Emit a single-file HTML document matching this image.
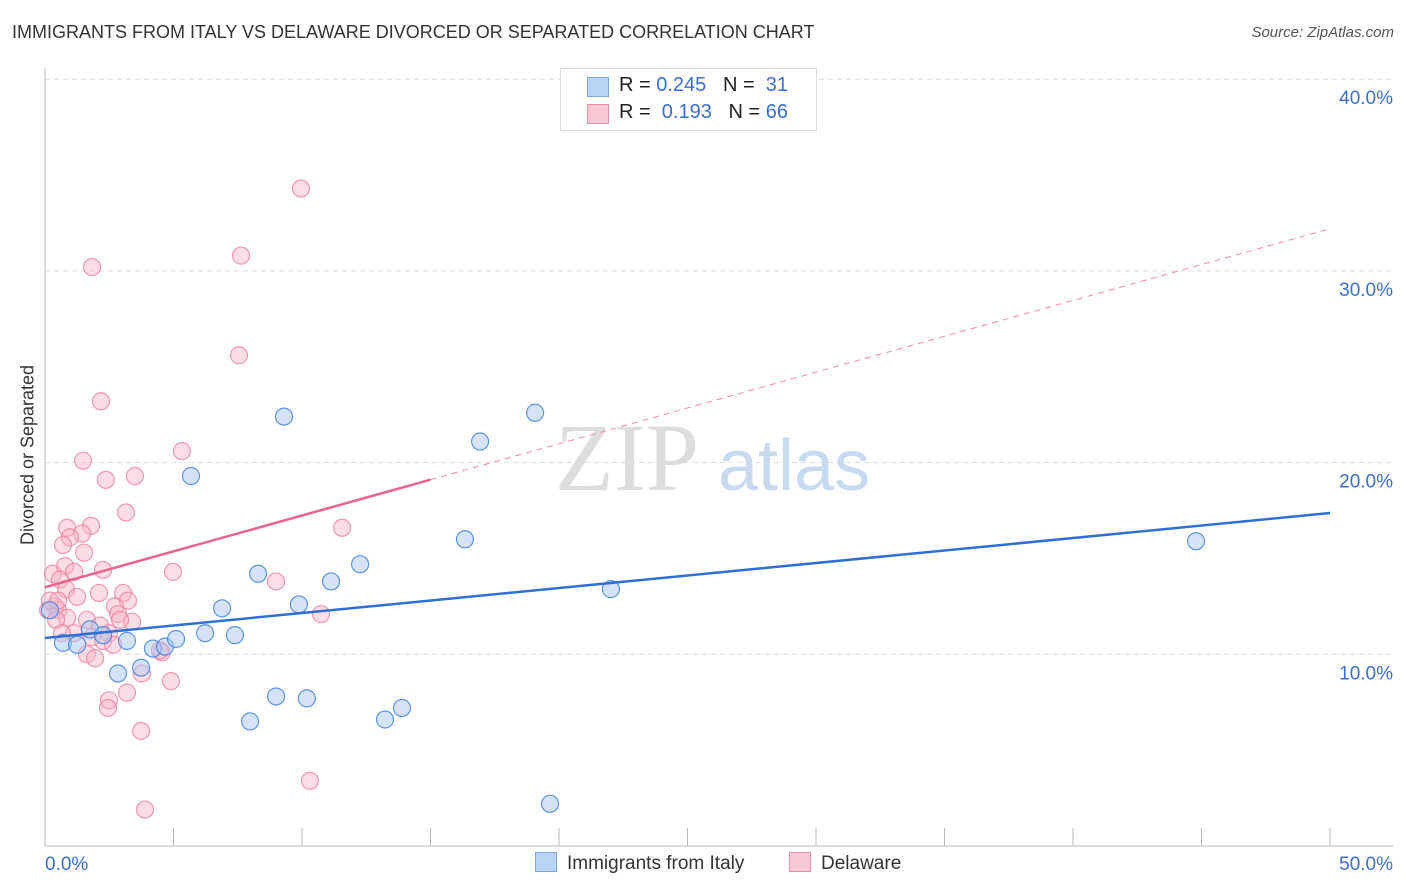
<!DOCTYPE html>
<html><head><meta charset="utf-8"><style>
body{margin:0;background:#fff;font-family:"Liberation Sans",sans-serif;}
#wrap{position:relative;width:1406px;height:892px;overflow:hidden;}
.t{position:absolute;white-space:nowrap;}
</style></head><body>
<div id="wrap">
<div class="t" style="left:12px;top:22px;font-size:18px;color:#333;">IMMIGRANTS FROM ITALY VS DELAWARE DIVORCED OR SEPARATED CORRELATION CHART</div>
<div class="t" style="right:12px;top:24px;font-size:15px;color:#555;font-style:italic;">Source: ZipAtlas.com</div>
<svg id="plot" width="1406" height="892" style="position:absolute;left:0;top:0"></svg>
<div class="t" style="left:560px;top:68px;width:255px;height:61px;border:1px solid #ddd;background:#fff;font-size:20px;">
  <div style="position:absolute;left:26px;top:8px;width:20px;height:18px;background:#b9d3f5;border:1px solid #7aa6e6"></div>
  <div style="position:absolute;left:58px;top:5px;color:#222">R = <span style="color:#3a6fd0">0.245</span>&nbsp;&nbsp;&nbsp;N = &nbsp;<span style="color:#3a6fd0">31</span></div>
  <div style="position:absolute;left:26px;top:35px;width:20px;height:18px;background:#f9c6d4;border:1px solid #eb8eaa"></div>
  <div style="position:absolute;left:58px;top:32px;color:#222">R = &nbsp;<span style="color:#3a6fd0">0.193</span>&nbsp;&nbsp;&nbsp;N = <span style="color:#3a6fd0">66</span></div>
</div>
<div class="t" style="left:28px;top:455px;transform:translate(-50%,-50%) rotate(-90deg);font-size:18px;color:#333;">Divorced or Separated</div>
<div class="t" style="left:535px;top:852px;font-size:19px;color:#333;"><span style="display:inline-block;width:20px;height:18px;background:#b9d3f5;border:1px solid #7aa6e6;vertical-align:-3px;margin-right:10px"></span>Immigrants from Italy</div>
<div class="t" style="left:789px;top:852px;font-size:19px;color:#333;"><span style="display:inline-block;width:20px;height:18px;background:#f9c6d4;border:1px solid #eb8eaa;vertical-align:-3px;margin-right:10px"></span>Delaware</div>
</div>
<script>
const yTicks=[10,20,30,40];
const yTickLabels=["10.0%","20.0%","30.0%","40.0%"];
const xEndLabels=["0.0%","50.0%"];
const blueX=[0.19,0.70,1.25,1.75,2.26,2.84,3.19,3.74,4.20,4.67,5.10,5.68,6.23,6.89,7.39,7.98,8.29,8.99,9.30,9.88,10.19,11.13,12.26,13.23,13.89,16.34,16.93,19.07,19.65,22.02,44.79];
const blueY=[12.3,10.6,10.5,11.3,11.0,9.0,10.7,9.3,10.3,10.4,10.8,19.3,11.1,12.4,11.0,6.5,14.2,7.8,22.4,12.6,7.7,13.8,14.7,6.6,7.2,16.0,21.1,22.6,2.2,13.4,15.9];
const pinkX=[9.96,7.63,1.83,7.55,2.18,5.33,1.48,3.50,2.37,3.15,0.86,1.79,1.44,0.97,1.52,0.31,0.78,1.13,2.26,4.98,0.58,8.99,0.82,2.10,3.04,1.25,3.23,0.39,2.72,0.12,0.51,2.84,0.86,1.63,3.39,10.74,11.56,0.43,2.14,2.49,1.13,1.83,2.26,2.65,4.55,1.63,1.95,3.77,4.90,3.19,2.49,2.45,3.74,10.31,3.89,0.66,0.19,0.51,2.92,4.47,0.70];
const pinkY=[34.3,30.8,30.2,25.6,23.2,20.6,20.1,19.3,19.1,17.4,16.6,16.7,16.3,16.1,15.3,14.2,14.6,14.3,14.4,14.3,13.9,13.8,13.4,13.2,13.2,13.0,12.8,12.5,12.5,12.3,12.3,12.1,11.9,11.8,11.7,12.1,16.6,11.8,11.5,11.1,11.1,10.9,10.7,10.5,10.1,10.0,9.8,9.0,8.6,8.0,7.6,7.2,6.0,3.4,1.9,11.1,12.8,12.8,11.8,10.2,15.7];
const blueTrend=[10.85,17.37];
const pinkTrend=[13.5,32.2];
const pinkSolidEnd=15;
const X=v=>45+v/50*1285, Y=v=>846-v*19.17;
const svg=document.getElementById('plot'),NS='http://www.w3.org/2000/svg';
function mk(t,a){const e=document.createElementNS(NS,t);for(const k in a)e.setAttribute(k,a[k]);svg.appendChild(e);return e;}
yTicks.forEach((v,i)=>{
 const g=mk('line',{x1:45,x2:1393,y1:Y(v),y2:Y(v),stroke:'#ddd','stroke-dasharray':'5,4'});
 
 
 const t=mk('text',{x:1393,y:Y(v)+25,'text-anchor':'end','font-size':19,fill:'#3a6fd0','font-family':'Liberation Sans'});
 t.textContent=yTickLabels[i];
 
 
});
const ax=mk('line',{x1:45,x2:45,y1:68,y2:846,stroke:'#bbb'});


const bx=mk('line',{x1:45,x2:1393,y1:846,y2:846,stroke:'#bbb'});


for(let v=5;v<=50;v+=5){const tk=mk('line',{x1:X(v),x2:X(v),y1:828,y2:846,stroke:'#bbb'});
 
 }
[[0,'start',45],[50,'end',1393]].forEach((d,i)=>{const t=mk('text',{x:d[2],y:870,'text-anchor':d[1],'font-size':19,fill:'#3a6fd0','font-family':'Liberation Sans'});t.textContent=xEndLabels[i];
 
 });
const w1=mk('text',{x:555,y:490,'font-size':96,fill:'#ddd','font-family':'Liberation Serif'});w1.textContent='ZIP';


const w2=mk('text',{x:718,y:490,'font-size':72,fill:'#c9d9f0','font-family':'Liberation Sans'});w2.textContent='atlas';


pinkX.forEach((v,i)=>{const c=mk('circle',{cx:X(v),cy:Y(pinkY[i]),r:8.5,fill:'rgba(248,180,200,0.45)',stroke:'rgba(232,130,160,0.8)','stroke-width':1.2});
 
 });
blueX.forEach((v,i)=>{const c=mk('circle',{cx:X(v),cy:Y(blueY[i]),r:8.5,fill:'rgba(170,200,240,0.5)',stroke:'rgba(70,130,220,0.85)','stroke-width':1.2});
 
 });
const pAt=x=>pinkTrend[0]+(pinkTrend[1]-pinkTrend[0])*x/50;
const pd=mk('line',{x1:X(pinkSolidEnd),y1:Y(pAt(pinkSolidEnd)),x2:X(50),y2:Y(pAt(50)),stroke:'#ee8aaa','stroke-width':1,'stroke-dasharray':'6,5'});


const ps=mk('line',{x1:X(0),y1:Y(pAt(0)),x2:X(pinkSolidEnd),y2:Y(pAt(pinkSolidEnd)),stroke:'#e8648e','stroke-width':2.5});


const bl=mk('line',{x1:X(0),y1:Y(blueTrend[0]),x2:X(50),y2:Y(blueTrend[1]),stroke:'#2e6fd6','stroke-width':2.5});


</script>
</body></html>
